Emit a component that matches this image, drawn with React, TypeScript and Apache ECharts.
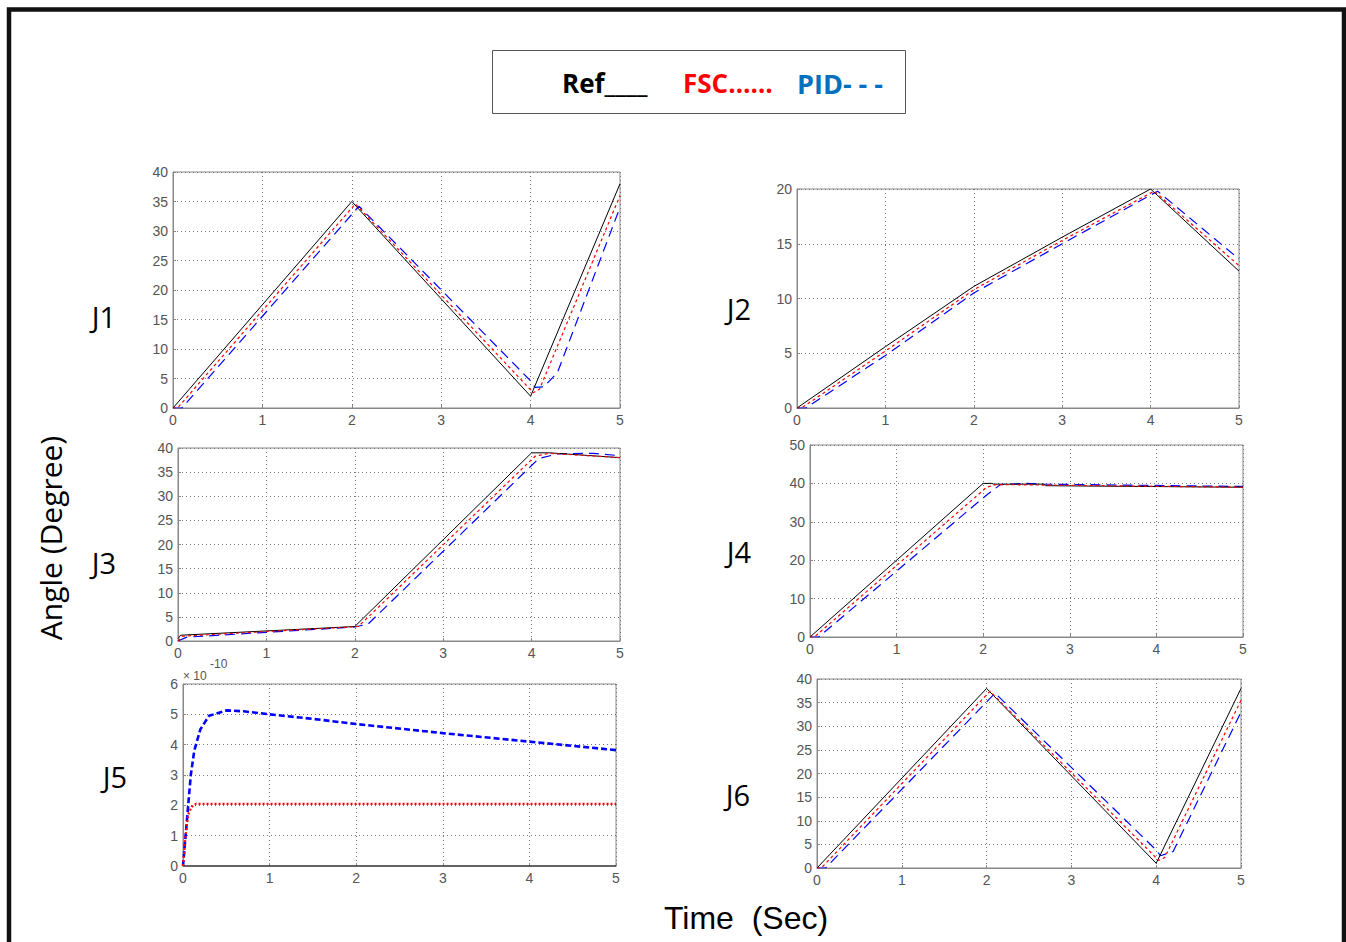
import React, { useEffect, useRef } from "react";
import * as echarts from "echarts";

// ---- data: [time (s), angle] pairs ----
const j1Ref = [[0, 0], [2, 35], [4, 2], [5, 38]];
const j1Fsc = [[0, 0], [0.05, 0], [2.04, 34.6], [4.03, 2.6], [4.1, 3.2], [5, 36]];
const j1Pid = [[0, 0], [0.1, 0], [2.08, 34.2], [4, 4.6], [4.05, 3.5], [4.15, 3.6], [4.3, 6], [5, 34]];

const j2Ref = [[0, 0], [1, 5.6], [2, 11.1], [3, 15.6], [4, 20], [5, 12.5]];
const j2Fsc = [[0, 0], [0.05, 0], [1, 5.2], [2, 10.8], [3, 15.3], [4.04, 19.8], [5, 13]];
const j2Pid = [[0, 0], [0.1, 0], [1, 4.8], [2, 10.5], [3, 15], [4.08, 19.8], [5, 13.6]];

const j3Ref = [[0, 0.5], [0.03, 1.2], [2, 3], [4, 39], [4.2, 39], [5, 38]];
const j3Fsc = [[0, 0], [0.05, 1], [2.04, 3], [4.04, 38.3], [4.2, 38.9], [5, 38]];
const j3Pid = [[0, 0], [0.1, 0.8], [2, 2.9], [2.15, 3.5], [4.08, 37.8], [4.3, 38.8], [4.7, 38.9], [5, 38.4]];

const j4Ref = [[0, 0], [2, 40], [2.1, 40], [2.12, 39.8], [2.7, 39.8], [2.72, 39.4], [5, 39]];
const j4Fsc = [[0, 0], [0.05, 0], [2.04, 39], [2.15, 39.7], [5, 39]];
const j4Pid = [[0, 0], [0.1, 0], [2.04, 37], [2.2, 39.7], [2.5, 40], [2.7, 39.8], [5, 39.2]];

const j5Ref = [[0, 0], [5, 0]];
const j5Fsc = [[0, 0], [0.03, 1], [0.06, 1.7], [0.1, 1.95], [0.15, 2.05], [5, 2.05]];
const j5Pid = [[0, 0], [0.03, 1], [0.06, 2], [0.09, 3], [0.13, 3.8], [0.2, 4.5], [0.3, 4.95], [0.5, 5.13], [0.7, 5.1], [1, 5], [1.5, 4.85], [2, 4.68], [3, 4.38], [4, 4.1], [5, 3.82]];

const j6Ref = [[0, 0], [2, 38], [4, 1], [5, 38]];
const j6Fsc = [[0, 0], [0.05, 0], [2.04, 37.4], [4.03, 1.6], [4.1, 2.2], [5, 35.5]];
const j6Pid = [[0, 0], [0.1, 0], [2.1, 37], [4, 3.8], [4.05, 2.6], [4.2, 3.5], [5, 33]];

const jointLabels = ["J1", "J2", "J3", "J4", "J5", "J6"];
const yMax = [40, 20, 40, 50, 6, 40];
const yStep = [5, 5, 5, 10, 1, 5];
const xMax = 5;
const xStep = 1;

const allData = [
  [j1Ref, j1Fsc, j1Pid],
  [j2Ref, j2Fsc, j2Pid],
  [j3Ref, j3Fsc, j3Pid],
  [j4Ref, j4Fsc, j4Pid],
  [j5Ref, j5Fsc, j5Pid],
  [j6Ref, j6Fsc, j6Pid],
];

// layout
const grids = [
  { left: 173, top: 172, width: 447, height: 236 },
  { left: 797, top: 189, width: 442, height: 219 },
  { left: 178, top: 448, width: 442, height: 193 },
  { left: 810, top: 445, width: 433, height: 192 },
  { left: 183, top: 684, width: 433, height: 182 },
  { left: 817, top: 679, width: 424, height: 189 },
];
const labelPos = [
  [104, 316], [739, 308], [104, 562], [739, 551], [115, 776], [738, 794],
];

export default function App() {
  const ref = useRef<HTMLDivElement>(null);
  useEffect(() => {
    if (!ref.current) return;
    const chart = echarts.init(ref.current, null, { renderer: "svg" });
    const tickFont = { color: "#555", fontSize: 14, fontFamily: "Liberation Sans, Arial, sans-serif" };
    const xAxis = grids.map((_, i) => ({
      type: "value",
      gridIndex: i,
      min: 0,
      max: xMax,
      interval: xStep,
      axisLine: { show: true, lineStyle: { color: "#888", width: 1 } },
      axisTick: { show: true, inside: true, length: 3, lineStyle: { color: "#888" } },
      axisLabel: { ...tickFont, margin: 5 },
      splitLine: { show: true, lineStyle: { color: "#777", type: [1, 3], width: 1 } },
    }));
    const yAxis = grids.map((_, i) => ({
      type: "value",
      gridIndex: i,
      min: 0,
      max: yMax[i],
      interval: yStep[i],
      axisLine: { show: true, lineStyle: { color: "#888", width: 1 } },
      axisTick: { show: true, inside: true, length: 3, lineStyle: { color: "#888" } },
      axisLabel: { ...tickFont, margin: 5 },
      splitLine: { show: true, lineStyle: { color: "#777", type: [1, 3], width: 1 } },
    }));
    const series: any[] = [];
    allData.forEach((set, i) => {
      const thick = i === 4;
      series.push({
        type: "line", xAxisIndex: i, yAxisIndex: i, data: set[0], showSymbol: false,
        lineStyle: { color: "#000", width: 1, type: "solid" }, z: 3,
      });
      series.push({
        type: "line", xAxisIndex: i, yAxisIndex: i, data: set[1], showSymbol: false,
        lineStyle: { color: "#ff0000", width: thick ? 2.2 : 1.2, type: thick ? [2, 2] : [3, 3] }, z: 4,
      });
      series.push({
        type: "line", xAxisIndex: i, yAxisIndex: i, data: set[2], showSymbol: false,
        lineStyle: { color: "#0000ff", width: thick ? 2.6 : 1.2, type: thick ? [6, 3] : [10, 6] }, z: 2,
      });
    });
    const graphic: any[] = [
      { type: "rect", shape: { x: 9, y: 9.5, width: 1335, height: 1000 }, style: { fill: "none", stroke: "#111", lineWidth: 4.5 }, z: 10 },
      { type: "rect", shape: { x: 492.5, y: 50.5, width: 413, height: 63 }, style: { fill: "#fff", stroke: "#555", lineWidth: 1 }, z: 10 },
      { type: "text", x: 562, y: 83, style: { text: "Ref____", fill: "#000", font: "bold 26px 'Open Sans', sans-serif", textVerticalAlign: "middle", textAlign: "left" }, z: 11 },
      { type: "text", x: 683, y: 83, style: { text: "FSC……", fill: "#ff0000", font: "bold 26px 'Open Sans', sans-serif", textVerticalAlign: "middle", textAlign: "left" }, z: 11 },
      { type: "text", x: 797, y: 83, style: { text: "PID- - -", fill: "#0070c0", font: "bold 27px 'Open Sans', sans-serif", textVerticalAlign: "middle", textAlign: "left" }, z: 11 },
      { type: "text", x: 50, y: 538, rotation: Math.PI / 2, style: { text: "Angle (Degree)", fill: "#000", font: "30px 'Open Sans', sans-serif", textVerticalAlign: "middle", textAlign: "center" }, z: 11 },
      { type: "text", x: 746, y: 918, style: { text: "Time  (Sec)", fill: "#000", font: "32px 'Liberation Sans', Arial, sans-serif", textVerticalAlign: "middle", textAlign: "center" }, z: 11 },
      { type: "text", x: 183, y: 676, style: { text: "× 10", fill: "#555", font: "12px 'Liberation Sans', Arial, sans-serif", textVerticalAlign: "middle", textAlign: "left" }, z: 11 },
      { type: "text", x: 210, y: 664, style: { text: "-10", fill: "#555", font: "12px 'Liberation Sans', Arial, sans-serif", textVerticalAlign: "middle", textAlign: "left" }, z: 11 },
    ];
    jointLabels.forEach((t, i) => {
      graphic.push({
        type: "text", x: labelPos[i][0], y: labelPos[i][1],
        style: { text: t, fill: "#000", font: "29px 'Open Sans', sans-serif", textVerticalAlign: "middle", textAlign: "center" }, z: 11,
      });
    });
    chart.setOption({
      animation: false,
      backgroundColor: "#fff",
      grid: grids.map((g) => ({ ...g, show: true, borderColor: "#888", borderWidth: 1, backgroundColor: "transparent" })),
      xAxis,
      yAxis,
      series,
      graphic,
    });
    return () => chart.dispose();
  }, []);
  return <div ref={ref} style={{ position: "fixed", left: 0, top: 0, width: 1346, height: 942 }} />;
}
